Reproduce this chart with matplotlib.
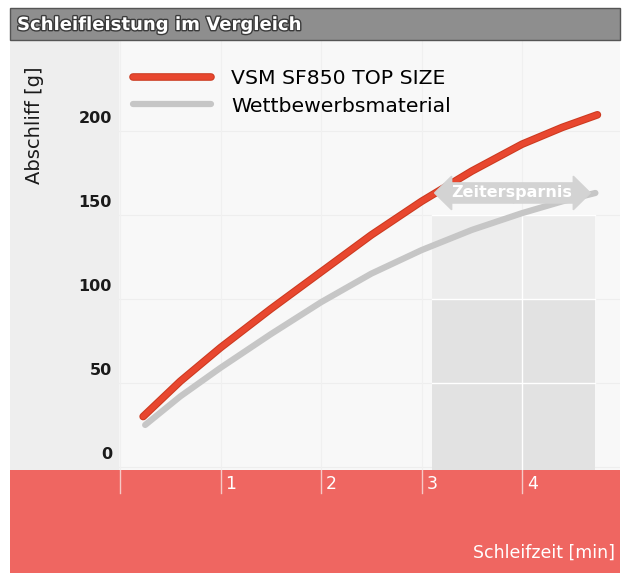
import numpy as np
import matplotlib.pyplot as plt
import matplotlib.patheffects as pe
from matplotlib.patches import Rectangle, FancyArrow
from matplotlib.lines import Line2D

# Daten
zeit_vsm = [0.23, 0.6, 1.0, 1.5, 2.0, 2.5, 3.0, 3.5, 4.0, 4.4, 4.75]
abschliff_vsm = [30, 51, 71, 94, 116, 138, 158, 176, 192, 202, 209.5]
zeit_wett = [0.25, 0.6, 1.0, 1.5, 2.0, 2.5, 3.0, 3.5, 4.0, 4.4, 4.73]
abschliff_wett = [25, 42, 59, 79, 98, 115, 129, 141, 151, 158, 163]

y_ticks = [0, 50, 100, 150, 200]
x_ticks = [0, 1, 2, 3, 4]
x_ticklabels = ["", "1", "2", "3", "4"]

# Zeitersparnis-Bereich
spar_start, spar_ende = 3.1, 4.73
spar_hoehe = 163

rot = "#e8472f"
rot_rand = "#cc3a20"
grau = "#c6c6c6"
band_rot = "#ef6661"

fig = plt.figure(figsize=(6.23, 5.73), dpi=100)
fig.patch.set_facecolor("white")

W, H = 623, 573

# Hauptdiagramm
ax = fig.add_axes([10 / W, (H - 470) / H, 610 / W, 430 / H])
ax.set_xlim(-1.095, 4.975)
ax.set_ylim(-1.8, 254)
ax.set_facecolor("#f8f8f8")
for s in ax.spines.values():
    s.set_visible(False)
ax.set_xticks([])
ax.set_yticks([])

# linker grauer Bereich für die Achsenbeschriftung
ax.axvspan(-1.095, -0.02, color="#eeeeee", zorder=0)

# Gitterlinien (sehr hell)
for y in y_ticks:
    ax.axhline(y, color="#eeeeee", lw=0.8, zorder=0.5)
for x in x_ticks:
    ax.axvline(x, color="#f0f0f0", lw=0.8, zorder=0.5)

# grau hinterlegter Bereich
ax.add_patch(Rectangle((spar_start, 100), spar_ende - spar_start, 50,
                       facecolor="#ededed", edgecolor="none", zorder=1))
ax.add_patch(Rectangle((spar_start, -1.8), spar_ende - spar_start, 101.8,
                       facecolor="#e2e2e2", edgecolor="none", zorder=1))
for y in [50, 100, 150]:
    ax.plot([spar_start, spar_ende], [y, y], color="white", lw=1, zorder=1.5)
ax.plot([4, 4], [-1.8, 150], color="white", lw=1, zorder=1.5)

# Kurven
ax.plot(zeit_wett, abschliff_wett, color=grau, lw=4.5, solid_capstyle="round",
        solid_joinstyle="round", zorder=3)
ax.plot(zeit_vsm, abschliff_vsm, color=rot, lw=4, solid_capstyle="round",
        solid_joinstyle="round", zorder=4,
        path_effects=[pe.Stroke(linewidth=5.5, foreground=rot_rand), pe.Normal()])

# Pfeil Zeitersparnis
pfeil = dict(width=12, head_width=20, head_length=0.17,
             length_includes_head=True, color="#d3d3d3", zorder=5)
mitte = (spar_start + spar_ende) / 2
ax.add_patch(FancyArrow(mitte, spar_hoehe, 4.68 - mitte, 0, **pfeil))
ax.add_patch(FancyArrow(mitte, spar_hoehe, 3.13 - mitte, 0, **pfeil))
ax.text(mitte - 0.02, spar_hoehe, "Zeitersparnis", color="white",
        fontsize=11.5, fontweight="bold", ha="center", va="center", zorder=6)

# y-Achse
for y in y_ticks:
    ax.text(-0.08, y + 3, str(y), ha="right", va="bottom", fontsize=11.5,
            fontweight="bold", color="#1a1a1a")
ax.text(-0.85, 203, "Abschliff [g]", rotation=90, ha="center", va="center",
        fontsize=14, color="#1a1a1a")

# Legende
handles = [Line2D([], [], color=rot, lw=4, solid_capstyle="round",
                  path_effects=[pe.Stroke(linewidth=5.5, foreground=rot_rand), pe.Normal()]),
           Line2D([], [], color=grau, lw=4.5, solid_capstyle="round")]
ax.legend(handles, ["VSM SF850 TOP SIZE", "Wettbewerbsmaterial"],
          loc="upper left", bbox_to_anchor=(123 / 610, (470 - 69) / 430),
          frameon=False, fontsize=14.7, handlelength=3.8, handletextpad=1.0,
          labelspacing=0.42, borderpad=0, borderaxespad=0)

# rotes Band mit x-Achse
axb = fig.add_axes([10 / W, 0, 610 / W, 103 / H])
axb.set_xlim(ax.get_xlim())
axb.set_ylim(0, 103)
axb.set_facecolor(band_rot)
for s in axb.spines.values():
    s.set_visible(False)
axb.set_xticks([])
axb.set_yticks([])
for x, lab in zip(x_ticks, x_ticklabels):
    axb.plot([x, x], [103, 80], color="#f6c9c6", lw=1)
    axb.text(x + 0.05, 98, lab, color="white", fontsize=12.5, ha="left", va="top")
axb.text(4.93, 20, "Schleifzeit [min]", color="white", fontsize=12.5,
         ha="right", va="center")

# Titelbalken
fig.patches.append(Rectangle((10 / W, (H - 40) / H), 610 / W, 32 / H,
                             transform=fig.transFigure, facecolor="#8e8e8e",
                             edgecolor="#555555", lw=1))
fig.text(17 / W, (H - 25) / H, "Schleifleistung im Vergleich", color="white",
         fontsize=13, fontweight="bold", ha="left", va="center",
         path_effects=[pe.withStroke(linewidth=2, foreground="#3a3a3a")])

fig.savefig("out.png", dpi=100)
